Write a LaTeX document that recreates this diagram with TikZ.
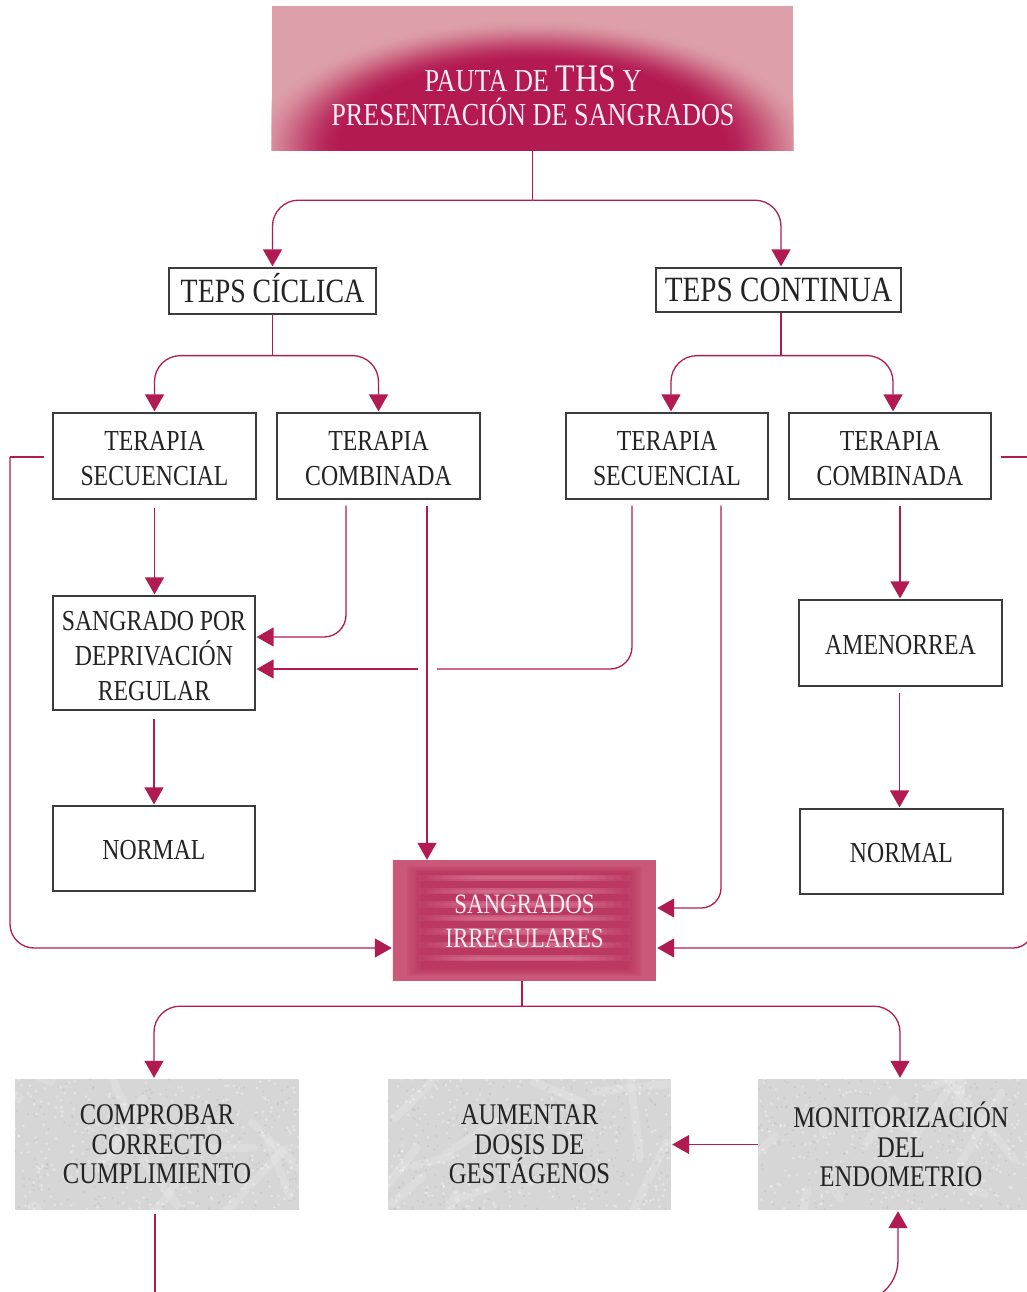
\documentclass[tikz,border=0pt]{standalone}
\usepackage{fontspec}
\setmainfont{Liberation Serif}[FakeStretch=0.82]
\usetikzlibrary{arrows.meta,calc,backgrounds}

\definecolor{mag}{RGB}{178,26,82}
\definecolor{frame}{RGB}{60,60,60}
\definecolor{ink}{RGB}{35,35,35}
\definecolor{titlelt}{RGB}{221,160,168}
\definecolor{titledk}{RGB}{180,26,82}
\definecolor{titleink}{RGB}{252,238,242}
\definecolor{sibase}{RGB}{202,88,120}
\definecolor{siedge}{RGB}{218,142,160}
\definecolor{sidk}{RGB}{178,34,82}
\definecolor{silt}{RGB}{222,128,154}
\definecolor{paper}{RGB}{214,214,214}

\pgfdeclarehorizontalshading{siedges}{100bp}{color(0bp)=(siedge); color(9bp)=(sibase); color(91bp)=(sibase); color(100bp)=(siedge)}

\begin{document}
\begin{tikzpicture}[x=1pt,y=-1pt,
  box/.style={draw=frame, line width=1.2pt, fill=white, inner sep=0pt, align=center, text=ink, font=\fontsize{29}{35}\selectfont},
  onebox/.style={box, text height=22.5pt, text depth=0pt},
  twobox/.style={box, text height=59.5pt, text depth=0pt},
  threebox/.style={box, text height=94.5pt, text depth=0pt},
  tepsbox/.style={box, font=\fontsize{34}{40}\selectfont, text height=22.5pt, text depth=0pt},
  paperbox/.style={inner sep=0pt, align=center, text=ink, font=\fontsize{30}{29.5}\selectfont},
  link/.style={draw=mag, line width=1.3pt},
  arr/.style={link, -{Triangle[length=17pt,width=19pt]}, shorten >=1pt},
]
\useasboundingbox (0,0) rectangle (1027,1292);

% ---- nodes ----
\node[inner sep=0pt, minimum width=521, minimum height=144] (title) at (532.5,78) {};
\node[inner sep=0pt, align=center, text=titleink, font=\fontsize{32}{34}\selectfont] (titletext) at (533,96)
  {PAUTA DE {\fontsize{39}{34}\selectfont THS} Y\\PRESENTACIÓN DE SANGRADOS};

\node[tepsbox, minimum width=207, minimum height=46] (cic) at (272.5,291) {TEPS CÍCLICA};
\node[tepsbox, minimum width=245, minimum height=44, font=\fontsize{35.5}{40}\selectfont] (con) at (778.5,290) {TEPS CONTINUA};

\node[twobox, minimum width=203, minimum height=86] (ts1) at (154.5,456) {TERAPIA\\SECUENCIAL};
\node[twobox, minimum width=203, minimum height=86] (tc1) at (378.5,456) {TERAPIA\\COMBINADA};
\node[twobox, minimum width=202, minimum height=86] (ts2) at (667,456) {TERAPIA\\SECUENCIAL};
\node[twobox, minimum width=202, minimum height=86] (tc2) at (890,456) {TERAPIA\\COMBINADA};

\node[threebox, minimum width=202, minimum height=114] (sdr) at (154,653) {SANGRADO POR\\DEPRIVACIÓN\\REGULAR};
\node[onebox, minimum width=202, minimum height=85] (n1) at (154,848.5) {NORMAL};
\node[onebox, minimum width=203, minimum height=86] (amen) at (900.5,643) {AMENORREA};
\node[onebox, minimum width=203, minimum height=85] (n2) at (901.5,851.5) {NORMAL};

\node[inner sep=0pt, minimum width=263, minimum height=120, align=center, text=titleink,
      font=\fontsize{28}{34}\selectfont] (si) at (524.5,921) {SANGRADOS\\IRREGULARES};

\node[paperbox, minimum width=284, minimum height=131] (g1) at (157,1144.5) {COMPROBAR\\CORRECTO\\CUMPLIMIENTO};
\node[paperbox, minimum width=283, minimum height=131] (g2) at (529.5,1144.5) {AUMENTAR\\DOSIS DE\\GESTÁGENOS};
\node[paperbox, minimum width=286, minimum height=131] (g3) at (901,1144.5) {MONITORIZACIÓN\\DEL\\ENDOMETRIO};

% ---- coloured and textured backgrounds ----
\begin{scope}[on background layer]
  % soft crimson glow rising from the bottom of the title panel
  \begin{scope}
    \clip (title.north west) rectangle (title.south east);
    \fill[titlelt] (title.north west) rectangle (title.south east);
    \foreach \i in {0,...,36}{
      \pgfmathsetmacro\p{100*(3*(\i/36)^2-2*(\i/36)^3)}
      \pgfmathsetmacro\s{1-0.33*\i/36}
      \fill[titledk!\p!titlelt] (title.south) ellipse [x radius=285*\s, y radius=132*\s];
    }
  \end{scope}

  % striped, blurred panel
  \begin{scope}[shift={(si.north west)}]
    \fill[sibase] (0,0) rectangle (263,120);
    \shade[shading=siedges] (0,0) rectangle (263,120);
    \foreach \d in {0,2,...,14}{
      \fill[sidk, opacity=.09] (14+\d,5+\d*.5) rectangle (249-\d,115-\d*.5);
    }
    \foreach \k in {0,...,6}{
      \foreach \d in {0,8,...,56}{
        \fill[silt, opacity=.09] (26+\d,{17+\k*13.4-3.2}) rectangle (237-\d,{17+\k*13.4+3.2});
        \fill[silt, opacity=.07] (36+\d,{17+\k*13.4-1.5}) rectangle (227-\d,{17+\k*13.4+1.5});
      }
    }
  \end{scope}

  % paper texture panels
  \pgfmathsetseed{42}
  \foreach \n/\w/\h in {g1/284/131, g2/283/131, g3/286/131}{
    \fill[paper] (\n.north west) rectangle (\n.south east);
    \begin{scope}[shift={(\n.north west)}]
      \clip (0,0) rectangle (\w,\h);
      \foreach \k in {1,...,12}{
        \draw[white, opacity=.16, line width=8pt, line cap=round]
          ({rnd*\w},{rnd*\h}) -- ++({(rnd-.5)*180},{(rnd-.5)*180});
      }
      \foreach \k in {1,...,300}{
        \fill[white, opacity=.3] ({rnd*\w},{rnd*\h}) circle (1.7);
      }
      \foreach \k in {1,...,220}{
        \fill[black, opacity=.05] ({rnd*\w},{rnd*\h}) circle (1.3);
      }
    \end{scope}
  }
\end{scope}

% ---- connectors ----
\coordinate (j1) at ($(title.south)+(0,50)$);
\draw[link] (title.south) -- (j1);
\draw[arr, rounded corners=26] (j1) -| (cic.north);
\draw[arr, rounded corners=26] (j1) -| ([xshift=2.5pt]con.north);

\coordinate (j2) at ($(cic.south)+(0,41)$);
\draw[link] (cic.south) -- (j2);
\draw[arr, rounded corners=26] (j2) -| (ts1.north);
\draw[arr, rounded corners=26] (j2) -| (tc1.north);

\coordinate (j3) at ($(con.south)+(2.5,43)$);
\draw[link] ([xshift=2.5pt]con.south) -- (j3);
\draw[arr, rounded corners=26] (j3) -| ([xshift=4pt]ts2.north);
\draw[arr, rounded corners=26] (j3) -| ([xshift=3pt]tc2.north);

% cyclic branch
\draw[arr, shorten <=8pt] (ts1.south) -- (ts1.south |- sdr.north);
\draw[arr, shorten <=8pt] (sdr.south) -- (sdr.south |- n1.north);
\draw[arr, rounded corners=22, shorten <=6pt] ([xshift=-32.5pt]tc1.south) |- ($(sdr.east)+(0,-16)$);
\draw[arr, shorten <=6pt] ([xshift=48.5pt]tc1.south) -- ([xshift=48.5pt]tc1.south |- si.north);

% continuous branch
\coordinate (gapR) at (437,669);
\coordinate (gapL) at (418,669);
\draw[link, rounded corners=22, shorten <=6pt] ([xshift=-35pt]ts2.south) |- (gapR);
\draw[arr] (gapL) -- (gapL -| sdr.east);
\draw[arr, rounded corners=20, shorten <=6pt] ([xshift=54pt]ts2.south) |- ($(si.east)+(0,-13)$);
\draw[arr, shorten <=6pt] ([xshift=10pt]tc2.south) -- ([xshift=10pt]tc2.south |- amen.north);
\draw[arr, shorten <=6pt] ([xshift=-1pt]amen.south) -- ([xshift=-1pt]amen.south |- n2.north);

% outer loops
\coordinate (lc) at (10,457);
\draw[link] ($(ts1.west)+(-8,1)$) -- (lc);
\draw[arr, rounded corners=24] (lc) |- ($(si.west)+(0,27)$);
\coordinate (rc) at (1033,457);
\draw[link] ($(tc2.east)+(9,1)$) -- (rc);
\draw[arr, rounded corners=20] (rc) |- ($(si.east)+(0,27)$);

% measures
\coordinate (j4) at ($(si.south)+(-2.5,25)$);
\draw[link] ([xshift=-2.5pt]si.south) -- (j4);
\draw[arr, rounded corners=26] (j4) -| ([xshift=-3pt]g1.north);
\draw[arr, rounded corners=26] (j4) -| ([xshift=-1pt]g3.north);
\draw[arr] (g3.west) -- (g2.east);

\coordinate (bl) at (155,1300);
\draw[link, shorten <=4pt] (g1.south -| bl) -- (bl);
\coordinate (br) at (840,1302);
\draw[arr, rounded corners=42] (br) -| ([xshift=-3pt]g3.south);
\end{tikzpicture}
\end{document}
